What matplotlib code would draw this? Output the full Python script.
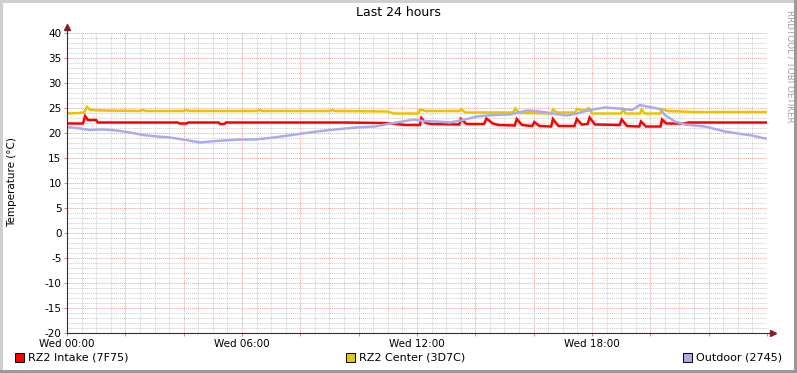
import matplotlib
matplotlib.use("Agg")
import matplotlib.pyplot as plt
from matplotlib.ticker import MultipleLocator, FuncFormatter
from matplotlib.patches import Rectangle

plt.rcParams["axes.unicode_minus"] = False

# time in hours since Wed 00:00
intake_t = [0, 0.55, 0.62, 0.72, 1.0, 1.05, 3.8, 3.85, 4.1, 4.15, 5.2, 5.25, 5.4, 5.45,
            7.0, 9.5, 10.9, 11.3, 11.6, 12.1, 12.15, 12.3, 12.5, 13.45, 13.5, 13.7, 14.3,
            14.38, 14.6, 14.8, 15.35, 15.42, 15.6, 15.95, 16.02, 16.2, 16.6, 16.66, 16.85,
            17.4, 17.48, 17.65, 17.85, 17.92, 18.1, 18.95, 19.02, 19.2, 19.62, 19.68, 19.85,
            20.35, 20.4, 20.55, 21.2, 21.3, 24]
intake_v = [21.9, 21.9, 23.4, 22.6, 22.6, 22.1, 22.1, 21.9, 21.9, 22.1, 22.1, 21.8, 21.8, 22.1,
            22.1, 22.1, 22.0, 21.8, 21.6, 21.6, 23.0, 22.0, 21.8, 21.7, 22.8, 21.8, 21.8,
            22.9, 21.9, 21.6, 21.5, 22.8, 21.6, 21.4, 22.2, 21.4, 21.3, 22.8, 21.4,
            21.4, 22.8, 21.7, 21.8, 23.1, 21.7, 21.6, 22.7, 21.4, 21.3, 22.3, 21.3,
            21.3, 22.7, 21.9, 21.9, 22.1, 22.1]

center_t = [0, 0.45, 0.6, 0.68, 0.8, 1.2, 2.5, 2.6, 2.7, 4.0, 4.1, 4.2, 6.5, 6.6, 6.7,
            9.0, 9.1, 9.2, 11.0, 11.2, 12.05, 12.1, 12.3, 13.45, 13.52, 13.65, 15.3,
            15.37, 15.5, 16.6, 16.66, 16.8, 17.42, 17.48, 17.6, 17.8, 17.88, 18.0, 19.0,
            19.06, 19.15, 19.65, 19.7, 19.8, 20.35, 20.4, 20.6, 21.5, 24]
center_v = [23.9, 24.0, 24.2, 25.2, 24.6, 24.5, 24.4, 24.6, 24.4, 24.4, 24.6, 24.4, 24.4, 24.6, 24.4,
            24.4, 24.6, 24.4, 24.3, 23.9, 23.9, 24.7, 24.4, 24.4, 24.8, 24.1, 24.1,
            24.9, 24.0, 23.9, 24.7, 24.1, 24.1, 24.8, 24.6, 24.6, 25.0, 23.9, 23.9,
            24.8, 23.9, 23.9, 24.7, 23.9, 23.9, 24.8, 24.4, 24.2, 24.2]

outdoor_t = [0, 0.45, 0.79, 1.23, 1.71, 2.16, 2.61, 3.09, 3.53, 3.98, 4.56, 4.9, 5.35, 5.93,
             6.45, 7.1, 7.6, 8.06, 8.7, 9.2, 9.9, 10.55, 11.1, 11.6, 11.9, 12.2, 12.68,
             13.13, 13.58, 14.05, 14.6, 15.19, 15.77, 16.2, 16.66, 17.14, 17.48, 17.93,
             18.44, 18.9, 19.37, 19.64, 20.05, 20.33, 20.5, 20.84, 21.19, 21.87, 22.56,
             23.0, 23.48, 23.93, 24.0]
outdoor_v = [21.2, 20.9, 20.6, 20.7, 20.5, 20.1, 19.6, 19.3, 19.1, 18.7, 18.1, 18.3, 18.5, 18.7,
             18.7, 19.1, 19.5, 19.9, 20.4, 20.7, 21.1, 21.3, 21.9, 22.4, 22.7, 22.4, 22.3,
             22.1, 22.6, 23.3, 23.6, 23.7, 24.5, 24.3, 23.9, 23.5, 23.9, 24.6,
             25.1, 24.9, 24.6, 25.6, 25.1, 24.8, 23.6, 22.3, 21.7, 21.3, 20.3,
             19.9, 19.5, 18.9, 18.9]

labels = ["RZ2 Intake (7F75)", "RZ2 Center (3D7C)", "Outdoor (2745)"]
colors = ["#FF0000", "#EAC400", "#AAAAF0"]

fig = plt.figure(figsize=(7.97, 3.73), dpi=100)
fig.patch.set_facecolor("white")
ax = fig.add_axes([67 / 797, 1 - 333 / 373, 700 / 797, 300 / 373])

ax.plot(intake_t, intake_v, color=colors[0], lw=1.8, solid_joinstyle="miter")
ax.plot(center_t, center_v, color=colors[1], lw=1.8, solid_joinstyle="miter")
ax.plot(outdoor_t, outdoor_v, color=colors[2], lw=1.8, solid_joinstyle="miter")

ax.set_xlim(0, 24)
ax.set_ylim(-20, 40)
ax.xaxis.set_major_locator(MultipleLocator(2))
ax.xaxis.set_minor_locator(MultipleLocator(0.5))
ax.yaxis.set_major_locator(MultipleLocator(5))
ax.yaxis.set_minor_locator(MultipleLocator(1))
ax.xaxis.set_major_formatter(FuncFormatter(
    lambda v, p: "Wed %02d:00" % v if abs(v % 6) < 1e-6 and v < 24 else ""))

ax.grid(which="minor", color="#CCCCCC", lw=0.7, ls=(0, (1, 1)))
ax.grid(which="major", color="#E8A0A0", lw=0.7, ls=(0, (1, 1)))
ax.set_axisbelow(True)
ax.tick_params(which="both", labelsize=7.5, length=2, width=0.7, color="#E08080", pad=2)
ax.tick_params(which="minor", length=0)
for s in ax.spines.values():
    s.set_visible(False)

# axis lines with arrows
ax.plot([0, 0], [-20, 41.0], color="#303030", lw=0.8, clip_on=False)
ax.plot([0, 24.15], [-20, -20], color="#303030", lw=0.8, clip_on=False)
ax.plot([0], [41.2], marker="^", ms=4, color="#8B1A1A", clip_on=False)
ax.plot([24.2], [-20], marker=">", ms=4, color="#8B1A1A", clip_on=False)

fig.text(398 / 797, 1 - 13 / 373, "Last 24 hours", ha="center", va="center", fontsize=9)
fig.text(12 / 797, 1 - 182 / 373, "Temperature (°C)", ha="center", va="center",
         rotation=90, fontsize=7.5)
fig.text(790 / 797, 1 - 10 / 373, "RRDTOOL / TOBI OETIKER", ha="center", va="top",
         rotation=270, fontsize=6.3, color="#A0A0A0")

# legend
leg_x = [15, 346, 683]
for x, lab, c in zip(leg_x, labels, colors):
    fig.patches.append(Rectangle((x / 797, 1 - 362 / 373), 9 / 797, 9 / 373,
                                 transform=fig.transFigure, facecolor=c,
                                 edgecolor="black", lw=0.7))
    fig.text((x + 13) / 797, 1 - 358 / 373, lab, ha="left", va="center", fontsize=8)

# 3d border
fig.patches.append(Rectangle((0, 1 - 3 / 373), 1, 3 / 373, transform=fig.transFigure,
                             facecolor="#CFCFCF", edgecolor="none"))
fig.patches.append(Rectangle((0, 0), 3 / 797, 1, transform=fig.transFigure,
                             facecolor="#CFCFCF", edgecolor="none"))
fig.patches.append(Rectangle((0, 0), 1, 3 / 373, transform=fig.transFigure,
                             facecolor="#9A9A9A", edgecolor="none"))
fig.patches.append(Rectangle((1 - 3 / 797, 0), 3 / 797, 1, transform=fig.transFigure,
                             facecolor="#9A9A9A", edgecolor="none"))

fig.savefig("out.png", dpi=100)
